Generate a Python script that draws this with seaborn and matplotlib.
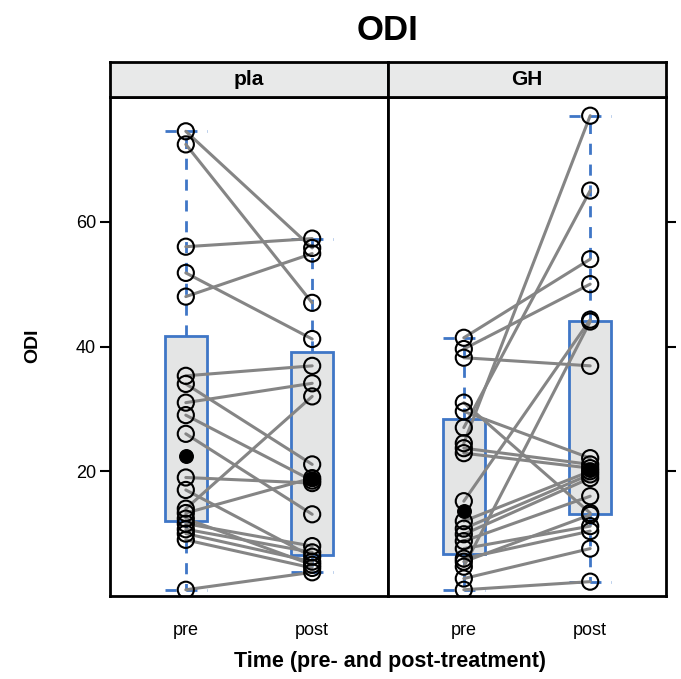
import numpy as np
import pandas as pd
import matplotlib
matplotlib.use("Agg")
import matplotlib.pyplot as plt
import seaborn as sns

# ODI values per subject, pre and post treatment (same order = same subject)
groups = ["pla", "GH"]
times = ["pre", "post"]
pla_pre = [74.5, 72.4, 56.0, 51.8, 48.0, 35.3, 34.0, 31.0, 29.0, 26.0,
           19.0, 17.0, 14.0, 13.3, 12.4, 11.6, 10.7, 10.0, 9.0, 1.0]
pla_post = [55.8, 47.0, 57.3, 41.2, 54.9, 36.9, 21.1, 34.1, 18.5, 13.1,
            18.1, 6.3, 32.0, 18.9, 5.0, 8.0, 7.0, 5.5, 4.5, 3.8]
gh_pre = [41.4, 39.6, 38.2, 31.0, 29.6, 27.0, 24.5, 23.7, 22.9, 15.2,
          12.0, 10.8, 9.9, 8.8, 7.6, 6.0, 5.5, 4.7, 2.8, 1.0]
gh_post = [54.0, 50.0, 36.9, 13.3, 22.1, 65.0, 77.0, 21.1, 20.5, 44.3,
           20.0, 19.5, 18.9, 16.0, 11.2, 10.4, 13.0, 44.0, 7.6, 2.3]
y_ticks = [20, 40, 60]

# long table
rows = []
for grp, pre, post in [("pla", pla_pre, pla_post), ("GH", gh_pre, gh_post)]:
    for i, (a, b) in enumerate(zip(pre, post)):
        rows.append({"group": grp, "id": f"{grp}{i}", "time": "pre", "odi": a})
        rows.append({"group": grp, "id": f"{grp}{i}", "time": "post", "odi": b})
df = pd.DataFrame(rows)
df["x"] = df["time"].map({t: i for i, t in enumerate(times)})


# lattice-style hinges (Tukey five number summary)
def fivenum(x):
    x = np.sort(np.asarray(x))
    n = len(x)
    n4 = np.floor((n + 3) / 2) / 2
    d = np.array([1, n4, (n + 1) / 2, n + 1 - n4, n])
    return 0.5 * (x[np.floor(d - 1).astype(int)] + x[np.ceil(d - 1).astype(int)])


sns.set_style("white")
plt.rcParams["font.family"] = ["Liberation Sans", "DejaVu Sans"]
for key in ["text.color", "axes.labelcolor", "xtick.color", "ytick.color"]:
    plt.rcParams[key] = "black"

blue = "#3f76c6"
fig = plt.figure(figsize=(6.81, 6.79), dpi=100)
W, H = 681, 679
panel_l = [110, 388]
panel_w = 278
top, bot = 97, 596
strip_top = 62

for k, grp in enumerate(groups):
    ax = fig.add_axes([panel_l[k] / W, 1 - bot / H, panel_w / W, (bot - top) / H])
    sub = df[df["group"] == grp]

    stats = []
    for t in times:
        mn, q1, med, q3, mx = fivenum(sub.loc[sub["time"] == t, "odi"])
        stats.append(dict(med=med, q1=q1, q3=q3, whislo=mn, whishi=mx, fliers=[]))
    ax.bxp(stats, positions=[0, 1], widths=0.33, capwidths=0.33, showfliers=False,
           patch_artist=True,
           boxprops=dict(facecolor="#e4e5e5", edgecolor=blue, linewidth=2),
           whiskerprops=dict(color=blue, linewidth=2, linestyle=(0, (4, 3.5))),
           capprops=dict(color=blue, linewidth=2, linestyle=(0, (4, 3.5))),
           medianprops=dict(visible=False), zorder=1)

    sns.lineplot(data=sub, x="x", y="odi", units="id", estimator=None,
                 color="#858585", linewidth=2.2, ax=ax, legend=False, zorder=2)
    sns.scatterplot(data=sub, x="x", y="odi", marker="o", s=135,
                    facecolors="none", edgecolors="black", linewidth=1.5,
                    ax=ax, legend=False, zorder=3)
    ax.scatter([0, 1], [s["med"] for s in stats], s=95, color="black", zorder=4)

    ax.set_xlim(-0.6, 1.6)
    ax.set_ylim(0, 80)
    ax.set_xticks([0, 1])
    ax.set_xticklabels(times, fontsize=13)
    ax.set_yticks(y_ticks)
    ax.set_xlabel("")
    ax.set_ylabel("")
    ax.tick_params(axis="x", length=0, pad=19)
    if k == 0:
        ax.tick_params(axis="y", left=True, right=False, length=7, width=1.5,
                       labelsize=13, direction="out", pad=3)
    else:
        ax.tick_params(axis="y", left=False, right=True, labelleft=False,
                       length=7, width=1.5, direction="out")
    for sp in ax.spines.values():
        sp.set_linewidth(2)
        sp.set_color("black")

    # strip
    sax = fig.add_axes([panel_l[k] / W, 1 - top / H, panel_w / W, (top - strip_top) / H])
    sax.set_facecolor("#e8e9e9")
    sax.set_xticks([])
    sax.set_yticks([])
    for sp in sax.spines.values():
        sp.set_linewidth(2)
        sp.set_color("black")
    sax.text(0.5, 0.5, grp, ha="center", va="center", fontsize=15,
             fontweight="bold", transform=sax.transAxes)

fig.text(388 / W, 1 - 30 / H, "ODI", ha="center", va="center", fontsize=25,
         fontweight="bold")
fig.text(33 / W, 1 - 346 / H, "ODI", ha="center", va="center", rotation=90,
         fontsize=14, fontweight="bold")
fig.text(390 / W, 1 - 662 / H, "Time (pre- and post-treatment)", ha="center",
         va="center", fontsize=15.5, fontweight="bold")

fig.savefig("out.png", dpi=100)
